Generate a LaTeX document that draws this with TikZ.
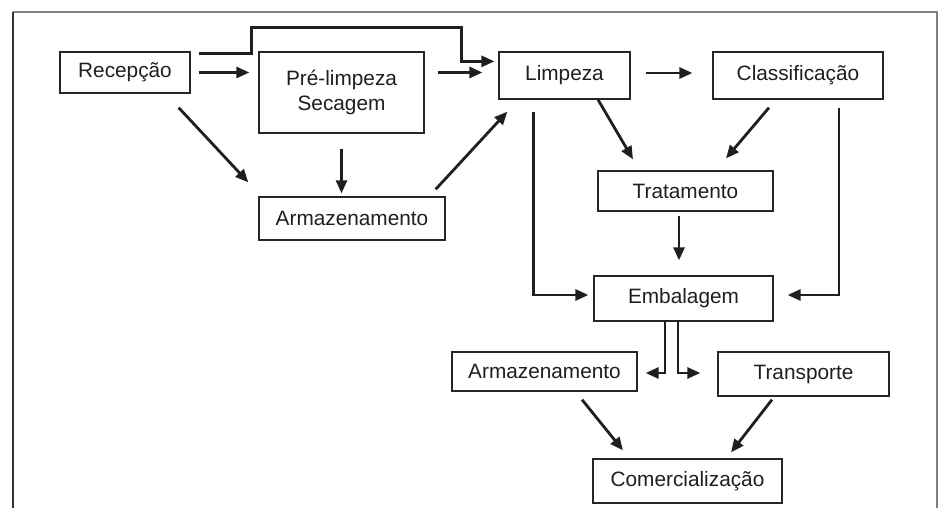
\documentclass[tikz,border=0pt]{standalone}
\usepackage{fontspec}
\setmainfont{Liberation Sans}
\usetikzlibrary{arrows.meta,calc}

\tikzset{
  stage/.style={draw=black!85, line width=1.3pt, inner sep=0pt, align=center,
    font=\fontsize{20.8}{25}\selectfont, text=black!88},
  flow/.style={line width=2.8pt, draw=black!88,
    -{Triangle[length=13pt,width=11pt]}},
  frameline/.style={line width=1.5pt},
}

\begin{document}
\begin{tikzpicture}[x=1pt,y=-1pt]
  \useasboundingbox (0,0) rectangle (944,508);
  \fill[white] (0,0) rectangle (944,508);

  % surrounding frame, open at the bottom
  \draw[frameline, draw=black!50] (13,12) -- (937,12) -- (937,510);
  \draw[frameline, draw=black!80] (13,12) -- (13,510);

  % stages
  \node[stage, minimum width=130, minimum height=41] (rec) at (125,72.5) {Recepção};
  \node[stage, minimum width=165, minimum height=81] (pre) at (341.5,92.5) {Pré-limpeza\\Secagem};
  \node[stage, minimum width=131, minimum height=47] (lim) at (564.5,75.5) {Limpeza};
  \node[stage, minimum width=170, minimum height=47] (cla) at (798,75.5) {Classificação};
  \node[stage, minimum width=186, minimum height=43] (arma) at (352,218.5) {Armazenamento};
  \node[stage, minimum width=175, minimum height=40] (tra) at (685.5,191) {Tratamento};
  \node[stage, minimum width=179, minimum height=45] (emb) at (683.5,298.5) {Embalagem};
  \node[stage, minimum width=185, minimum height=39] (armb) at (544.5,371.5) {Armazenamento};
  \node[stage, minimum width=171, minimum height=44] (trn) at (803.5,374) {Transporte};
  \node[stage, minimum width=189, minimum height=44] (com) at (687.5,481) {Comercialização};

  % connectors
  \draw[flow] ($(rec.east)+(8,0)$) -- ($(pre.west |- rec.east)+(-9,0)$);
  \draw[flow] ($(rec.north east)+(8,2)$) -| ($(pre.north west)+(-7,-24)$)
              -| ($(lim.north west)+(-37,10)$) -- ($(lim.north west)+(-4,10)$);
  \draw[flow] ($(pre.east)+(13,-20)$) -- ($(lim.west)+(-16,-3)$);
  \draw[flow] ($(lim.east)+(15,-2.5)$) -- ($(cla.west)+(-20,-2.5)$);
  \draw[flow] ($(rec.south east)+(-12,14)$) -- ($(arma.north west)+(-10,-14)$);
  \draw[flow] ($(pre.south)+(0,15)$) -- ($(pre.south |- arma.north)+(0,-3)$);
  \draw[flow] ($(arma.north east)+(-10,-7)$) -- ($(lim.south west)+(9,12)$);
  \draw[flow] ($(lim.south west)+(35,12)$) |- ($(emb.west)+(-5,-3.5)$);
  \draw[flow] ($(lim.south)+(33.5,0)$) -- ($(tra.north)+(-52.5,-11)$);
  \draw[flow] ($(cla.south)+(-29,8)$) -- ($(tra.north)+(40.5,-12)$);
  \draw[flow] ($(cla.south)+(41,8)$) |- ($(emb.east)+(14,-3.5)$);
  \draw[flow] ($(tra.south)+(-6.5,4)$) -- ($(emb.north)+(-4.5,-15)$);
  \draw[flow] ($(emb.south)+(-18.5,0)$) |- ($(armb.east)+(8,1.5)$);
  \draw[flow] ($(emb.south)+(-5.5,0)$) |- ($(trn.west)+(-17,-1)$);
  \draw[flow] ($(armb.south)+(37.5,8)$) -- ($(com.north)+(-64.5,-8)$);
  \draw[flow] ($(trn.south)+(-31.5,3)$) -- ($(com.north)+(43.5,-6)$);
\end{tikzpicture}
\end{document}
